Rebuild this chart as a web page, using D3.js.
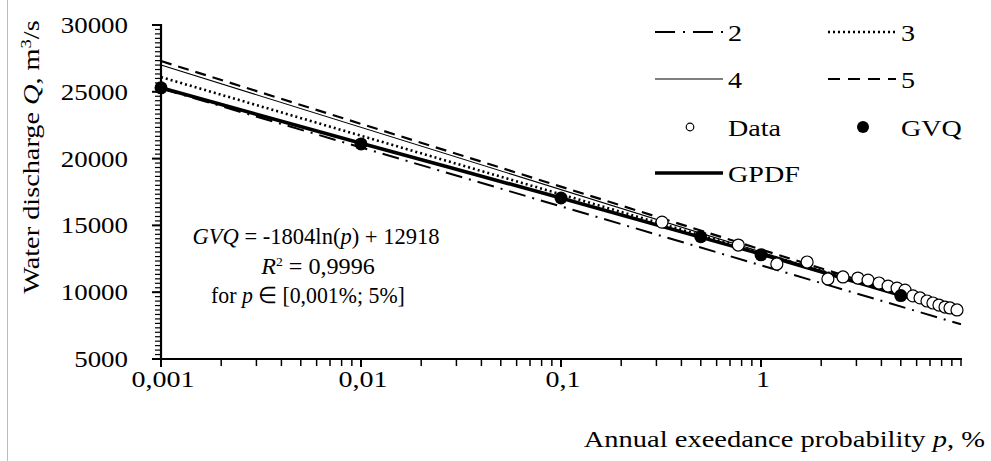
<!DOCTYPE html>
<html>
<head>
<meta charset="utf-8">
<script src="https://cdn.jsdelivr.net/npm/d3@7"></script>
<style>
  body { margin: 0; background: #fff; }
  text { font-family: "Liberation Serif", "Times New Roman", serif; fill: #000; }
</style>
</head>
<body>
<div id="chart"></div>
<script>
// axis ticks
const xTicks = [0.001, 0.01, 0.1, 1];
const xTickLabels = ["0,001", "0,01", "0,1", "1"];
const yTicks = [5000, 10000, 15000, 20000, 25000, 30000];

// observed data (open circles)
const dataP = [0.32, 0.77, 1.2, 1.7, 2.16, 2.57, 3.05, 3.43, 3.89, 4.32, 4.79, 5.25, 5.75, 6.24, 6.76, 7.24, 7.76, 8.32, 8.81, 9.55];
const dataQ = [15250, 13530, 12110, 12260, 10990, 11140, 11060, 10910, 10690, 10460, 10310, 10160, 9720, 9570, 9340, 9190, 9040, 8890, 8820, 8670];

// GVQ points
const gvqP = [0.001, 0.01, 0.1, 0.5, 1, 5];
const gvqQ = [25300, 21100, 17050, 14150, 12800, 9750];

// GPDF curve
const gpdfP = [0.001, 0.01, 0.1, 1, 10];
const gpdfQ = [25300, 21150, 17050, 12850, 8450];

// fitted distributions 2..5 (straight in log p)
const fitP = [0.001, 10];
const fit2Q = [25250, 7600];
const fit3Q = [26100, 8550];
const fit4Q = [27000, 8350];
const fit5Q = [27300, 8500];

const W = 991, H = 461;
const svg = d3.select("#chart").append("svg")
    .attr("width", W).attr("height", H);

const x = d3.scaleLog().domain([0.001, 10]).range([161, 961]);
const y = d3.scaleLinear().domain([5000, 30000]).range([359, 25]);

function addText(parent, tx, ty, anchor, size, sx, rot) {
    return parent.append("text")
        .attr("transform", "translate(" + tx + "," + ty + ") rotate(" + (rot || 0) + ") scale(" + sx + ",1)")
        .attr("text-anchor", anchor)
        .style("font-size", size + "px");
}

// thin frame line on the left
svg.append("line").attr("x1", 7.5).attr("x2", 7.5).attr("y1", 0).attr("y2", H)
    .attr("stroke", "#bbb").attr("stroke-width", 1);

// y axis: minor ticks
const yMinor = d3.range(5000, 30001, 1000 / 3);
svg.append("g").selectAll("line").data(yMinor).enter().append("line")
    .attr("x1", 155).attr("x2", 161)
    .attr("y1", d => y(d)).attr("y2", d => y(d))
    .attr("stroke", "#000").attr("stroke-width", 1.2);
svg.append("g").selectAll("line").data(yTicks).enter().append("line")
    .attr("x1", 152).attr("x2", 161)
    .attr("y1", d => y(d)).attr("y2", d => y(d))
    .attr("stroke", "#000").attr("stroke-width", 2);
svg.append("line").attr("x1", 161).attr("x2", 161).attr("y1", y(30000) - 1).attr("y2", y(5000) + 1)
    .attr("stroke", "#000").attr("stroke-width", 2.2);
yTicks.forEach(function (t) {
    addText(svg, 128, y(t) + 8, "end", 23, 1.17).text(t);
});

// x axis
const xMinor = [];
for (let e = -3; e < 1; e++) {
    for (let k = 2; k <= 10; k++) xMinor.push(k * Math.pow(10, e));
}
svg.append("g").selectAll("line").data(xMinor).enter().append("line")
    .attr("x1", d => x(d)).attr("x2", d => x(d))
    .attr("y1", 359).attr("y2", 366)
    .attr("stroke", "#000").attr("stroke-width", 1.5);
svg.append("g").selectAll("line").data(xTicks).enter().append("line")
    .attr("x1", d => x(d)).attr("x2", d => x(d))
    .attr("y1", 359).attr("y2", 367)
    .attr("stroke", "#000").attr("stroke-width", 2);
svg.append("line").attr("x1", 160).attr("x2", 962).attr("y1", 359).attr("y2", 359)
    .attr("stroke", "#000").attr("stroke-width", 2.2);
xTicks.forEach(function (t, i) {
    addText(svg, x(t) + 2, 387, "middle", 24, 1.17).text(xTickLabels[i]);
});

// axis titles
const yt = addText(svg, 39, 157, "middle", 23, 1.23, -90);
yt.append("tspan").text("Water discharge ");
yt.append("tspan").style("font-style", "italic").text("Q");
yt.append("tspan").text(", m");
yt.append("tspan").attr("dy", -8).style("font-size", "15px").text("3");
yt.append("tspan").attr("dy", 8).text("/s");

const xt = addText(svg, 985, 447, "end", 23, 1.24);
xt.append("tspan").text("Annual exeedance probability ");
xt.append("tspan").style("font-style", "italic").text("p");
xt.append("tspan").text(", %");

// lines
const line = d3.line().x(d => x(d[0])).y(d => y(d[1]));
const zip = (a, b) => a.map((v, i) => [v, b[i]]);
const series = [
    { q: fit2Q, dash: "17,7,2,7", w: 2 },
    { q: fit3Q, dash: "2,3", w: 2.6 },
    { q: fit4Q, dash: null, w: 1.1 },
    { q: fit5Q, dash: "11,7", w: 2.2 }
];
const plot = svg.append("g");
series.forEach(function (s) {
    plot.append("path").datum(zip(fitP, s.q)).attr("d", line)
        .attr("fill", "none").attr("stroke", "#000")
        .attr("stroke-width", s.w).attr("stroke-dasharray", s.dash);
});
plot.append("path").datum(zip(gpdfP, gpdfQ)).attr("d", line.curve(d3.curveMonotoneX))
    .attr("fill", "none").attr("stroke", "#000").attr("stroke-width", 3.6);

plot.selectAll(".data").data(zip(dataP, dataQ)).enter().append("circle")
    .attr("cx", d => x(d[0])).attr("cy", d => y(d[1])).attr("r", 6)
    .attr("fill", "#fff").attr("stroke", "#000").attr("stroke-width", 1.2);
plot.selectAll(".gvq").data(zip(gvqP, gvqQ)).enter().append("circle")
    .attr("cx", d => x(d[0])).attr("cy", d => y(d[1])).attr("r", 6.5)
    .attr("fill", "#000");

// equation
const eq1 = addText(svg, 316, 244, "middle", 23, 0.98);
eq1.append("tspan").style("font-style", "italic").text("GVQ");
eq1.append("tspan").text(" = -1804ln(");
eq1.append("tspan").style("font-style", "italic").text("p");
eq1.append("tspan").text(") + 12918");
const eq2 = addText(svg, 318, 274, "middle", 23, 1.05);
eq2.append("tspan").style("font-style", "italic").text("R");
eq2.append("tspan").attr("dy", -8).style("font-size", "13px").text("2");
eq2.append("tspan").attr("dy", 8).text(" = 0,9996");
const eq3 = addText(svg, 308, 303, "middle", 23, 0.95);
eq3.append("tspan").text("for ");
eq3.append("tspan").style("font-style", "italic").text("p");
eq3.append("tspan").text(" \u2208 [0,001%; 5%]");

// legend
const leg = svg.append("g");
const legItems = [
    { label: "2", dash: "20,8,2,8", w: 2, col: 0, row: 0 },
    { label: "3", dash: "2,3", w: 2.6, col: 1, row: 0 },
    { label: "4", dash: null, w: 1.1, col: 0, row: 1 },
    { label: "5", dash: "12,8", w: 2.2, col: 1, row: 1 },
    { label: "Data", marker: "open", col: 0, row: 2 },
    { label: "GVQ", marker: "filled", col: 1, row: 2 },
    { label: "GPDF", dash: null, w: 3.6, col: 0, row: 3 }
];
const legRows = [32, 79, 127, 173];
const legCols = [655, 828];
legItems.forEach(function (d) {
    const lx = legCols[d.col], ly = legRows[d.row];
    if (d.marker === "open") {
        leg.append("circle").attr("cx", lx + 35).attr("cy", ly).attr("r", 3.8)
            .attr("fill", "#fff").attr("stroke", "#000").attr("stroke-width", 1.2);
    } else if (d.marker === "filled") {
        leg.append("circle").attr("cx", lx + 35).attr("cy", ly).attr("r", 6).attr("fill", "#000");
    } else {
        leg.append("line").attr("x1", lx).attr("x2", lx + 68).attr("y1", ly).attr("y2", ly)
            .attr("stroke", "#000").attr("stroke-width", d.w).attr("stroke-dasharray", d.dash);
    }
    addText(leg, lx + 73, ly + 9, "start", 24, 1.17).text(d.label);
});
</script>
</body>
</html>
